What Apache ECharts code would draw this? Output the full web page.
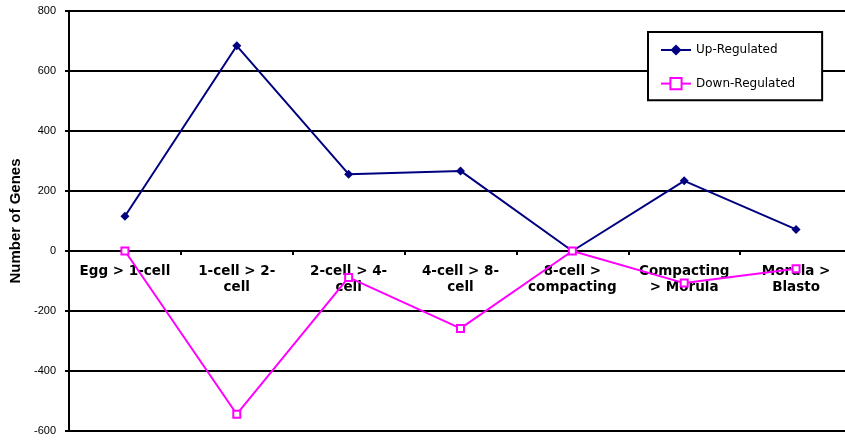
<!DOCTYPE html>
<html>
<head>
<meta charset="utf-8">
<script src="https://cdn.jsdelivr.net/npm/echarts@6/dist/echarts.min.js"></script>
<style>html,body{margin:0;padding:0;background:#fff;}#c{width:845px;height:440px;}</style>
</head>
<body>
<div id="c"></div>
<script>
var categories = ['Egg > 1-cell', '1-cell > 2-\ncell', '2-cell > 4-\ncell', '4-cell > 8-\ncell', '8-cell >\ncompacting', 'Compacting\n> Morula', 'Morula >\nBlasto'];
var upRegulated = [116, 684, 256, 267, 0, 234, 72];
var downRegulated = [0, -544, -88, -258, 0, -107, -59];
var yTicks = {min: -600, max: 800, interval: 200};

var gridTop = 11, gridBottom = 9, chartH = 440;
var plotH = chartH - gridTop - gridBottom;
// offset of the label axis so that it sits on the value-axis zero line
var zeroOffset = -plotH * (0 - yTicks.min) / (yTicks.max - yTicks.min);

var chart = echarts.init(document.getElementById('c'), null, {renderer: 'canvas'});
chart.setOption({
  animation: false,
  backgroundColor: '#ffffff',
  textStyle: {fontFamily: '"Liberation Sans", Arial, sans-serif'},
  grid: {left: 69, right: -7, top: gridTop, bottom: gridBottom, containLabel: false, outerBoundsMode: 'none'},
  legend: {
    orient: 'vertical',
    left: 648, top: 32,
    padding: [12, 27, 10, 12],
    itemGap: 21,
    itemWidth: 30, itemHeight: 14,
    backgroundColor: '#ffffff',
    borderColor: '#000000', borderWidth: 2,
    textStyle: {fontSize: 12, color: '#000', fontFamily: '"DejaVu Sans", sans-serif'},
    data: ['Up-Regulated', 'Down-Regulated']
  },
  xAxis: [{
    type: 'category',
    data: categories,
    boundaryGap: true,
    axisLine: {show: true, onZero: true, lineStyle: {color: '#000', width: 2}},
    axisTick: {show: true, length: 4, inside: false, lineStyle: {color: '#000', width: 2}},
    axisLabel: {show: false},
    splitLine: {show: false}
  }, {
    type: 'category',
    data: categories,
    position: 'bottom',
    offset: zeroOffset,
    boundaryGap: true,
    axisLine: {show: false, onZero: false},
    axisTick: {show: false},
    axisLabel: {show: true, interval: 0, margin: 12, color: '#000', fontSize: 13.5, fontWeight: 'bold', lineHeight: 16, fontFamily: '"DejaVu Sans", sans-serif'},
    splitLine: {show: false}
  }],
  yAxis: {
    type: 'value',
    min: yTicks.min, max: yTicks.max, interval: yTicks.interval,
    name: 'Number of Genes',
    nameLocation: 'middle',
    nameGap: 39,
    nameTextStyle: {fontSize: 15, fontWeight: 'bold', color: '#000', fontFamily: '"Liberation Sans", Arial, sans-serif'},
    axisLine: {show: true, onZero: false, lineStyle: {color: '#000', width: 2}},
    axisTick: {show: true, length: 4, inside: false, lineStyle: {color: '#000', width: 2}},
    axisLabel: {margin: 13, color: '#000', fontSize: 11, fontFamily: '"Liberation Sans", Arial, sans-serif'},
    splitLine: {show: true, lineStyle: {color: '#000', width: 2}}
  },
  series: [
    {
      name: 'Up-Regulated',
      type: 'line',
      data: upRegulated,
      symbol: 'diamond',
      symbolSize: 9,
      color: '#000080',
      lineStyle: {color: '#000080', width: 2},
      itemStyle: {color: '#000080'},
      z: 2
    },
    {
      name: 'Down-Regulated',
      type: 'line',
      data: downRegulated,
      symbol: 'emptyRect',
      symbolSize: 7,
      color: '#FF00FF',
      lineStyle: {color: '#FF00FF', width: 2},
      itemStyle: {color: '#FF00FF', borderColor: '#FF00FF', borderWidth: 2},
      z: 3
    }
  ]
});
</script>
</body>
</html>
